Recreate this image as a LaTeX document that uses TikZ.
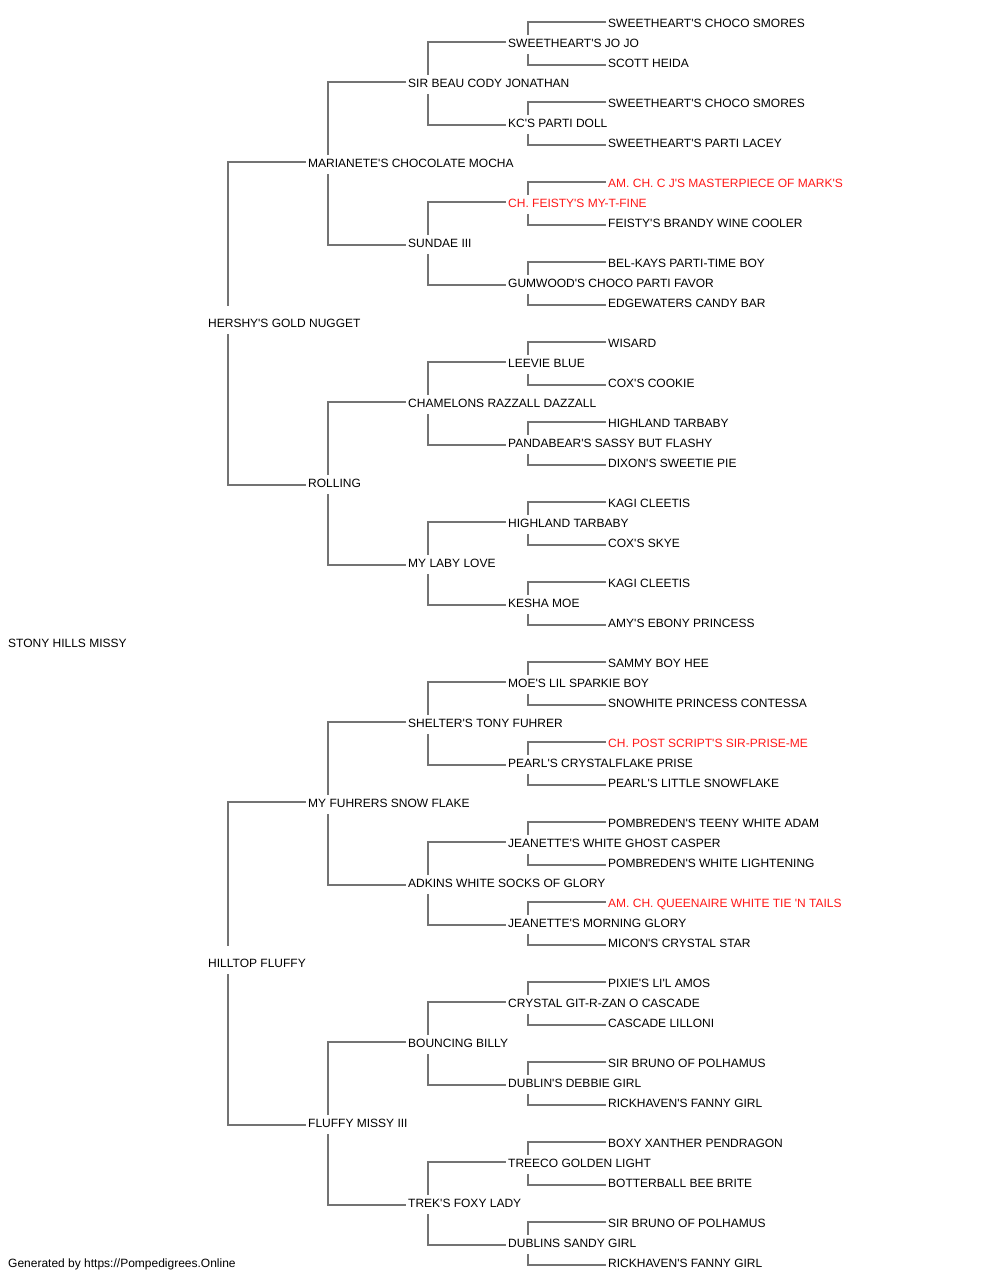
\documentclass[tikz,border=0pt]{standalone}
\usepackage{fontspec}
\setmainfont{Liberation Sans}[Ligatures=TeXOff]
\definecolor{lncol}{RGB}{115,115,115}
\definecolor{redtxt}{RGB}{255,25,25}
\tikzset{
  pn/.style={anchor=base west,inner xsep=2.5pt,inner ysep=0pt,text height=9pt,text depth=0pt,font=\fontsize{12}{14}\selectfont},
  ln/.style={draw=lncol,line width=1.4pt}
}
\newcommand\pn[4][black]{\node[pn,text=#1] (r#3) at ({105.5+100*#2},{27.3+20*#3}) {#4};}
\newcommand\lk[4][12.3]{%
  \draw[ln] ([yshift=1pt]r#3.west) -| ([xshift=22.5pt,yshift=#1pt]r#2.base west);
  \draw[ln] ([yshift=-2pt]r#4.west) -| ([xshift=22.5pt,yshift=-6.7pt]r#2.base west);}
\begin{document}
\begin{tikzpicture}[x=1pt,y=-1pt]
\useasboundingbox[fill=white] (0,0) rectangle (1000,1280);
\pn{5}{0}{SWEETHEART'S CHOCO SMORES}
\pn{4}{1}{SWEETHEART'S JO JO}
\pn{5}{2}{SCOTT HEIDA}
\pn{3}{3}{SIR BEAU CODY JONATHAN}
\pn{5}{4}{SWEETHEART'S CHOCO SMORES}
\pn{4}{5}{KC'S PARTI DOLL}
\pn{5}{6}{SWEETHEART'S PARTI LACEY}
\pn{2}{7}{MARIANETE'S CHOCOLATE MOCHA}
\pn[redtxt]{5}{8}{AM. CH. C J'S MASTERPIECE OF MARK'S}
\pn[redtxt]{4}{9}{CH. FEISTY'S MY-T-FINE}
\pn{5}{10}{FEISTY'S BRANDY WINE COOLER}
\pn{3}{11}{SUNDAE III}
\pn{5}{12}{BEL-KAYS PARTI-TIME BOY}
\pn{4}{13}{GUMWOOD'S CHOCO PARTI FAVOR}
\pn{5}{14}{EDGEWATERS CANDY BAR}
\pn{1}{15}{HERSHY'S GOLD NUGGET}
\pn{5}{16}{WISARD}
\pn{4}{17}{LEEVIE BLUE}
\pn{5}{18}{COX'S COOKIE}
\pn{3}{19}{CHAMELONS RAZZALL DAZZALL}
\pn{5}{20}{HIGHLAND TARBABY}
\pn{4}{21}{PANDABEAR'S SASSY BUT FLASHY}
\pn{5}{22}{DIXON'S SWEETIE PIE}
\pn{2}{23}{ROLLING}
\pn{5}{24}{KAGI CLEETIS}
\pn{4}{25}{HIGHLAND TARBABY}
\pn{5}{26}{COX'S SKYE}
\pn{3}{27}{MY LABY LOVE}
\pn{5}{28}{KAGI CLEETIS}
\pn{4}{29}{KESHA MOE}
\pn{5}{30}{AMY'S EBONY PRINCESS}
\pn{-1}{31}{STONY HILLS MISSY}
\pn{5}{32}{SAMMY BOY HEE}
\pn{4}{33}{MOE'S LIL SPARKIE BOY}
\pn{5}{34}{SNOWHITE PRINCESS CONTESSA}
\pn{3}{35}{SHELTER'S TONY FUHRER}
\pn[redtxt]{5}{36}{CH. POST SCRIPT'S SIR-PRISE-ME}
\pn{4}{37}{PEARL'S CRYSTALFLAKE PRISE}
\pn{5}{38}{PEARL'S LITTLE SNOWFLAKE}
\pn{2}{39}{MY FUHRERS SNOW FLAKE}
\pn{5}{40}{POMBREDEN'S TEENY WHITE ADAM}
\pn{4}{41}{JEANETTE'S WHITE GHOST CASPER}
\pn{5}{42}{POMBREDEN'S WHITE LIGHTENING}
\pn{3}{43}{ADKINS WHITE SOCKS OF GLORY}
\pn[redtxt]{5}{44}{AM. CH. QUEENAIRE WHITE TIE 'N TAILS}
\pn{4}{45}{JEANETTE'S MORNING GLORY}
\pn{5}{46}{MICON'S CRYSTAL STAR}
\pn{1}{47}{HILLTOP FLUFFY}
\pn{5}{48}{PIXIE'S LI'L AMOS}
\pn{4}{49}{CRYSTAL GIT-R-ZAN O CASCADE}
\pn{5}{50}{CASCADE LILLONI}
\pn{3}{51}{BOUNCING BILLY}
\pn{5}{52}{SIR BRUNO OF POLHAMUS}
\pn{4}{53}{DUBLIN'S DEBBIE GIRL}
\pn{5}{54}{RICKHAVEN'S FANNY GIRL}
\pn{2}{55}{FLUFFY MISSY III}
\pn{5}{56}{BOXY XANTHER PENDRAGON}
\pn{4}{57}{TREECO GOLDEN LIGHT}
\pn{5}{58}{BOTTERBALL BEE BRITE}
\pn{3}{59}{TREK'S FOXY LADY}
\pn{5}{60}{SIR BRUNO OF POLHAMUS}
\pn{4}{61}{DUBLINS SANDY GIRL}
\pn{5}{62}{RICKHAVEN'S FANNY GIRL}
\node[pn] (footer) at (5.5,1267.3) {Generated by https://Pompedigrees.Online};
% generation 4 -> 5
\foreach \k in {1,5,...,61} {
  \pgfmathtruncatemacro\s{\k-1}\pgfmathtruncatemacro\d{\k+1}
  \lk{\k}{\s}{\d}
}
% generation 3 -> 4
\foreach \k in {3,11,...,59} {
  \pgfmathtruncatemacro\s{\k-2}\pgfmathtruncatemacro\d{\k+2}
  \lk{\k}{\s}{\d}
}
% generation 2 -> 3
\foreach \k in {7,23,39,55} {
  \pgfmathtruncatemacro\s{\k-4}\pgfmathtruncatemacro\d{\k+4}
  \lk{\k}{\s}{\d}
}
% generation 1 -> 2
\lk[21.3]{15}{7}{23}
\lk[21.3]{47}{39}{55}
\end{tikzpicture}
\end{document}
